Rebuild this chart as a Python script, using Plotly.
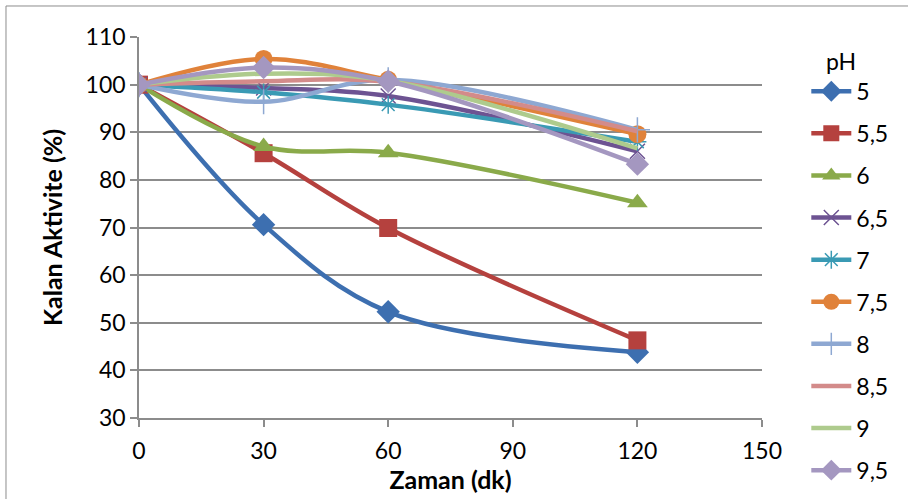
import plotly.graph_objects as go

time_min = [0, 30, 60, 120]
ph_labels = ["5", "5,5", "6", "6,5", "7", "7,5", "8", "8,5", "9", "9,5"]
ph5 = [100, 70.6, 52.3, 43.8]
ph5_5 = [100, 85.6, 69.9, 46.3]
ph6 = [100, 87.0, 85.7, 75.2]
ph6_5 = [100, 99.3, 97.6, 86.0]
ph7 = [100, 98.4, 95.8, 88.0]
ph7_5 = [100, 105.4, 101.0, 89.6]
ph8 = [100, 96.4, 101.0, 90.5]
ph8_5 = [100, 100.7, 100.6, 90.2]
ph9 = [100, 102.3, 100.8, 86.6]
ph9_5 = [100, 103.6, 100.7, 83.3]
x_ticks = [0, 30, 60, 90, 120, 150]
y_ticks = [30, 40, 50, 60, 70, 80, 90, 100, 110]

series = [ph5, ph5_5, ph6, ph6_5, ph7, ph7_5, ph8, ph8_5, ph9, ph9_5]
colors = ["#3D6FB0", "#B5413E", "#8AAA4A", "#6D5392", "#3A9AB4",
          "#E0823A", "#8EA8D2", "#D38B8A", "#AECB8D", "#A497C0"]
symbols = ["diamond", "square", "triangle-up", "x-thin-open", "asterisk-open",
           "circle", "cross-thin-open", None, None, "diamond"]
sizes = [18, 18, 18, 15, 15, 18, 18, 0, 0, 18]

fig = go.Figure()
for i, (lab, ys) in enumerate(zip(ph_labels, series)):
    sym = symbols[i]
    if sym is None:
        mode = "lines"
        marker = dict()
    else:
        mode = "lines+markers"
        if "thin" in sym or sym == "asterisk-open":
            marker = dict(symbol=sym, size=sizes[i], color=colors[i],
                          line=dict(color=colors[i], width=1.5))
        else:
            marker = dict(symbol=sym, size=sizes[i], color=colors[i],
                          line=dict(width=0))
    fig.add_trace(go.Scatter(
        x=time_min, y=ys, name=lab, mode=mode,
        line=dict(color=colors[i], width=4.5, shape="spline", smoothing=1.0),
        marker=marker, legendgroup=lab,
    ))

fig.add_shape(type="rect", xref="paper", yref="paper",
              x0=-0.2135, y0=-1, x1=2, y1=1.0814,
              line=dict(color="#8C8C8C", width=1), layer="below")

fig.update_layout(
    width=908, height=499,
    margin=dict(l=139, r=146, t=37, b=81),
    paper_bgcolor="white", plot_bgcolor="white",
    font=dict(family="Lato, Carlito, Calibri, sans-serif", color="black", size=18),
    xaxis=dict(range=[0, 150], tickvals=x_ticks, showgrid=False, automargin=False,
               showline=True, linecolor="#8C8C8C", linewidth=1.5,
               ticks="outside", ticklen=7, tickcolor="#8C8C8C", tickwidth=1.5,
               tickfont=dict(size=23), zeroline=False, ticklabelstandoff=5,
               title=dict(text="<b>Zaman (dk)</b>", font=dict(size=25), standoff=4)),
    yaxis=dict(range=[30, 110], tickvals=y_ticks, showgrid=True, automargin=False,
               gridcolor="#8C8C8C", gridwidth=1.5,
               showline=True, linecolor="#8C8C8C", linewidth=1.5,
               ticks="outside", ticklen=7, tickcolor="#8C8C8C", tickwidth=1.5,
               tickfont=dict(size=23), zeroline=False,
               title=dict(text="<b>Kalan Aktivite (%)</b>", font=dict(size=25), standoff=16)),
    legend=dict(xref="container", x=0.888, xanchor="left",
                yref="container", y=0.92, yanchor="top", maxheight=475,
                font=dict(size=23), tracegroupgap=9.2,
                title=dict(text="   pH", font=dict(size=23)),
                bgcolor="rgba(0,0,0,0)", itemwidth=40),
    showlegend=True,
)

fig.write_html("out.html")
